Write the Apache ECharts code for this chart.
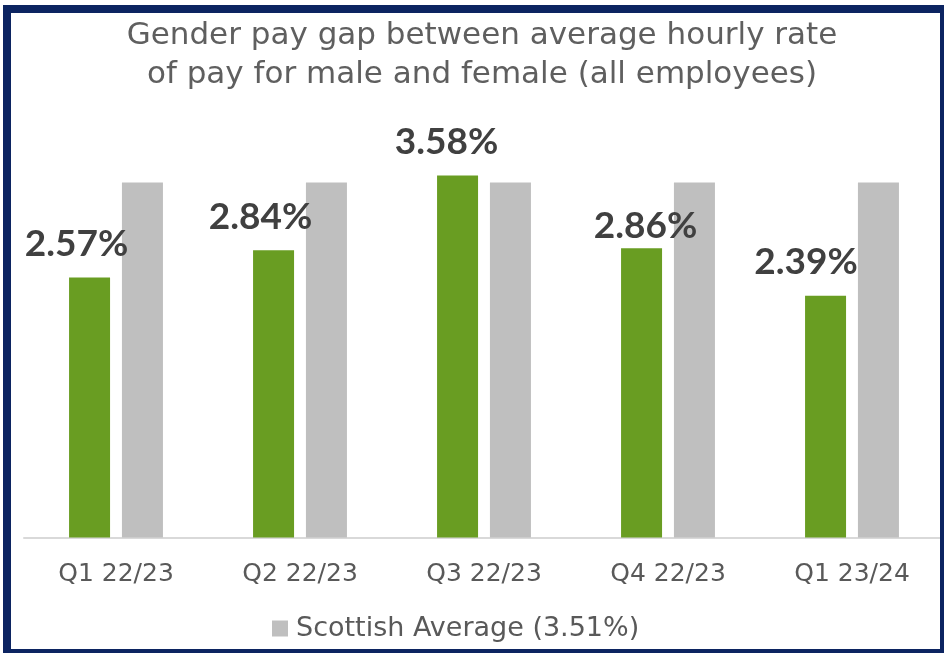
<!DOCTYPE html>
<html>
<head>
<meta charset="utf-8">
<script src="https://cdn.jsdelivr.net/npm/echarts@6/dist/echarts.min.js"></script>
<style>
html,body{margin:0;padding:0;background:#fff;}
#chart{width:944px;height:653px;}
</style>
</head>
<body>
<div id="chart"></div>
<script>
const titleLines = ['Gender pay gap between average hourly rate', 'of pay for male and female (all employees)'];
const categories = ['Q1 22/23', 'Q2 22/23', 'Q3 22/23', 'Q4 22/23', 'Q1 23/24'];
const genderPayGap = [2.57, 2.84, 3.58, 2.86, 2.39];
const scottishAverage = [3.51, 3.51, 3.51, 3.51, 3.51];
const averageLegendName = 'Scottish Average (3.51%)';

// label nudges (layout only)
const labelOffsets = [[-13, 0], [-13, 0], [-11, 0], [4, 11], [-19.5, 0]];

const chart = echarts.init(document.getElementById('chart'), null, {renderer: 'canvas'});
const baseFont = 'DejaVu Sans';

const option = {
  animation: false,
  backgroundColor: '#ffffff',
  graphic: [
    {
      type: 'rect',
      z: 100,
      shape: {x: 7, y: 9, width: 937, height: 644},
      style: {fill: 'none', stroke: '#0c2461', lineWidth: 8}
    },
    {
      type: 'text',
      z: 50,
      x: 482,
      y: 16,
      style: {
        text: titleLines.join('\n'),
        align: 'center',
        verticalAlign: 'top',
        fontFamily: baseFont,
        fontSize: 31,
        lineHeight: 39,
        fill: '#5f5f5f'
      }
    }
  ],
  grid: {left: 24, right: 0, top: 133, bottom: 115.5, containLabel: false},
  legend: {
    data: [averageLegendName],
    left: 267,
    top: 610,
    itemWidth: 16,
    itemHeight: 16,
    icon: 'rect',
    textStyle: {fontFamily: baseFont, fontSize: 27, color: '#595959', padding: [0, 0, 0, 3]}
  },
  xAxis: {
    type: 'category',
    data: categories,
    axisTick: {show: false},
    axisLine: {show: true, lineStyle: {color: '#d9d9d9', width: 2}},
    axisLabel: {fontFamily: baseFont, fontSize: 25, color: '#595959', margin: 24}
  },
  yAxis: {
    type: 'value',
    min: 0,
    max: 4,
    show: false,
    splitLine: {show: false}
  },
  series: [
    {
      name: 'Gender pay gap',
      type: 'bar',
      barWidth: 41,
      barGap: '29%',
      itemStyle: {color: '#699d22'},
      label: {
        show: true,
        position: 'top',
        distance: 15,
        fontFamily: 'Lato',
        fontWeight: 'bold',
        fontSize: 37,
        color: '#404040',
        formatter: p => p.value.toFixed(2) + '%'
      },
      data: genderPayGap.map((v, i) => ({value: v, label: {offset: labelOffsets[i]}}))
    },
    {
      name: averageLegendName,
      type: 'bar',
      barWidth: 41,
      itemStyle: {color: '#bfbfbf'},
      data: scottishAverage
    }
  ]
};
chart.setOption(option);
</script>
</body>
</html>
